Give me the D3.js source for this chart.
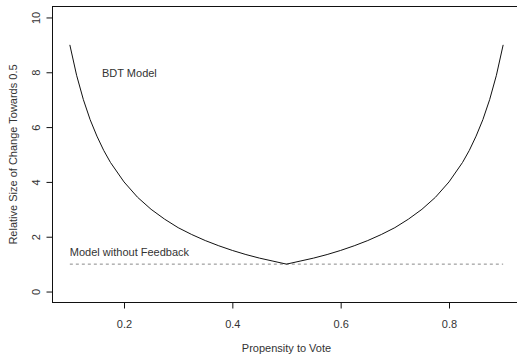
<!DOCTYPE html>
<html>
<head>
<meta charset="utf-8">
<script src="https://cdn.jsdelivr.net/npm/d3@7"></script>
<style>
  html, body { margin: 0; padding: 0; background: #fff; }
  svg { display: block; }
  text { font-family: "Liberation Sans", Arial, Helvetica, sans-serif; fill: #333; }
</style>
</head>
<body>
<script>
// ---- data ----
const propensity = [0.1000, 0.1125, 0.1250, 0.1375, 0.1500, 0.1625, 0.1750, 0.2000,
                    0.2250, 0.2500, 0.2750, 0.3000, 0.3250, 0.3500, 0.3750, 0.4000,
                    0.4250, 0.4500, 0.4750, 0.5000, 0.5250, 0.5500, 0.5750, 0.6000,
                    0.6250, 0.6500, 0.6750, 0.7000, 0.7250, 0.7500, 0.7750, 0.8000,
                    0.8250, 0.8375, 0.8500, 0.8625, 0.8750, 0.8875, 0.9000];
const bdtChange  = [9.00, 7.89, 7.00, 6.27, 5.67, 5.15, 4.71, 4.00,
                    3.44, 3.00, 2.64, 2.33, 2.08, 1.86, 1.67, 1.50,
                    1.35, 1.22, 1.11, 1.00, 1.11, 1.22, 1.35, 1.50,
                    1.67, 1.86, 2.08, 2.33, 2.64, 3.00, 3.44, 4.00,
                    4.71, 5.15, 5.67, 6.27, 7.00, 7.89, 9.00];
const noFeedbackX = [0.10, 0.90];
const noFeedbackY = [1, 1];
const xTicks = [0.2, 0.4, 0.6, 0.8];
const yTicks = [0, 2, 4, 6, 8, 10];
const xTitle = "Propensity to Vote";
const yTitle = "Relative Size of Change Towards 0.5";
const labelBDT = "BDT Model";
const labelNoFb = "Model without Feedback";

const W = 517, H = 355;
const svg = d3.select("body").append("svg").attr("width", W).attr("height", H);

const x = d3.scaleLinear().domain([0.068, 0.932]).range([52.5, 520.5]);
const y = d3.scaleLinear().domain([-0.4, 10.4]).range([302.5, 6.5]);

// frame (box)
svg.append("rect")
  .attr("x", x(0.068)).attr("y", y(10.4))
  .attr("width", x(0.932) - x(0.068)).attr("height", y(-0.4) - y(10.4))
  .attr("fill", "none").attr("stroke", "#111").attr("stroke-width", 1);

// x axis
const xAxis = d3.axisBottom(x).tickValues(xTicks).tickSize(6).tickSizeOuter(0)
  .tickFormat(d3.format(".1f")).tickPadding(12);
const gx = svg.append("g").attr("transform", `translate(0,${y(-0.4)})`).call(xAxis);
gx.select(".domain").remove();
gx.selectAll("line").attr("stroke", "#111");
gx.selectAll("text").attr("font-size", 11).attr("fill", "#333")
  .attr("font-family", '"Liberation Sans", Arial, sans-serif');

// y axis
const yAxis = d3.axisLeft(y).tickValues(yTicks).tickSize(6).tickSizeOuter(0)
  .tickFormat(d3.format("d"));
const gy = svg.append("g").attr("transform", `translate(${x(0.068)},0)`).call(yAxis);
gy.select(".domain").remove();
gy.selectAll("line").attr("stroke", "#111");
gy.selectAll("text").remove();
gy.selectAll(".tick").append("text")
  .attr("transform", "translate(-13,0) rotate(-90)")
  .attr("text-anchor", "middle")
  .attr("font-size", 11)
  .attr("fill", "#333")
  .text(d => d);

// titles
svg.append("text").attr("x", x(0.5)).attr("y", 352)
  .attr("text-anchor", "middle").attr("font-size", 11).text(xTitle);
svg.append("text")
  .attr("transform", `translate(17,${(y(-0.4) + y(10.4)) / 2}) rotate(-90)`)
  .attr("text-anchor", "middle").attr("font-size", 11).text(yTitle);

// dashed reference line
svg.append("path")
  .datum(noFeedbackX.map((v, i) => [v, noFeedbackY[i]]))
  .attr("fill", "none").attr("stroke", "#8a8a8a").attr("stroke-width", 1)
  .attr("stroke-dasharray", "3,3")
  .attr("d", d3.line().x(d => x(d[0])).y(d => y(d[1])));

// BDT curve
svg.append("path")
  .datum(propensity.map((v, i) => [v, bdtChange[i]]))
  .attr("fill", "none").attr("stroke", "#111").attr("stroke-width", 1)
  .attr("d", d3.line().x(d => x(d[0])).y(d => y(d[1])));

// annotations
svg.append("text").attr("x", 102).attr("y", y(8) + 4.5)
  .attr("font-size", 11).text(labelBDT);
svg.append("text").attr("x", x(0.1)).attr("y", y(1.46) + 4)
  .attr("font-size", 11).text(labelNoFb);
</script>
</body>
</html>
